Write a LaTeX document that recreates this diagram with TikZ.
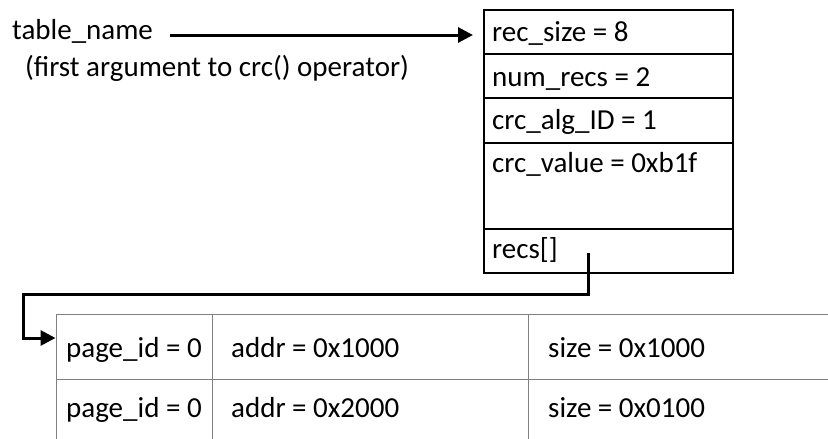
\documentclass[tikz,border=0pt]{standalone}
\usepackage{fontspec}
\setmainfont{Carlito}
\usetikzlibrary{arrows.meta}
\begin{document}
\begin{tikzpicture}[x=1pt,y=-1pt,
  lbl/.style={inner sep=0pt,anchor=base west,font=\fontsize{29}{34}\selectfont},
  field/.style={draw=black,line width=2pt,anchor=north west,inner sep=0pt,minimum width=249pt},
  cell/.style={draw=black!50,line width=1.3pt,anchor=north west,inner sep=0pt,minimum height=65pt},
  link/.style={line width=3pt,-{Triangle[length=15pt,width=15pt]}}]
\useasboundingbox (0,0) rectangle (828,439);
\clip (0,0) rectangle (828,439);
% labels
\node[lbl] (tn) at (12,39) {table\_name};
\node[lbl] (fa) at (25,76) {(first argument to crc() operator)};
% record structure
\node[field,minimum height=44pt] (r1) at (483,9) {};
\node[field,minimum height=44pt] (r2) at (483,53) {};
\node[field,minimum height=45pt] (r3) at (483,97) {};
\node[field,minimum height=86pt] (r4) at (483,142) {};
\node[field,minimum height=44pt] (r5) at (483,228) {};
\node[lbl] (t1) at (492,41) {rec\_size = 8};
\node[lbl] (t2) at (492,86) {num\_recs = 2};
\node[lbl] (t3) at (492,129) {crc\_alg\_ID = 1};
\node[lbl] (t4) at (492,172) {crc\_value = 0xb1f};
\node[lbl] (t5) at (492,258) {recs[]};
% table of records
\node[cell,minimum width=156pt] (c11) at (56,314) {};
\node[cell,minimum width=316pt] (c12) at (212,314) {};
\node[cell,minimum width=320pt] (c13) at (528,314) {};
\node[cell,minimum width=156pt] (c21) at (56,379) {};
\node[cell,minimum width=316pt] (c22) at (212,379) {};
\node[cell,minimum width=320pt] (c23) at (528,379) {};
\node[lbl] (p1) at (66,357) {page\_id = 0};
\node[lbl] (a1) at (231,357) {addr = 0x1000};
\node[lbl] (s1) at (548,357) {size = 0x1000};
\node[lbl] (p2) at (66,417) {page\_id = 0};
\node[lbl] (a2) at (231,417) {addr = 0x2000};
\node[lbl] (s2) at (548,417) {size = 0x0100};
% connectors
\coordinate (a0) at (170,35);
\draw[link,shorten >=10pt] (a0) -- (a0 -| r1.west);
\coordinate (rp) at (588,253);
\coordinate (bend) at (23,294);
\coordinate (tip) at (23,338);
\draw[link,shorten >=0.5pt] (rp) |- (bend) -- (tip) -- (tip -| c11.west);
\end{tikzpicture}
\end{document}
